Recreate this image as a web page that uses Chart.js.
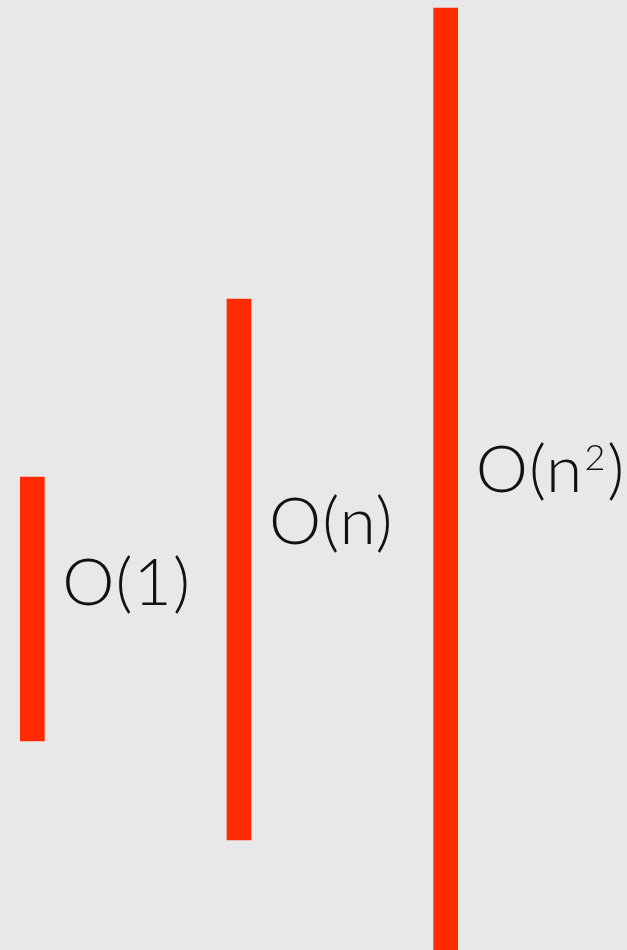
<!DOCTYPE html>
<html>
<head>
<meta charset="utf-8">
<script src="https://cdn.jsdelivr.net/npm/chart.js@4"></script>
<style>
html,body{margin:0;padding:0;background:#e8e8e8;}
#wrap{position:relative;width:627px;height:950px;overflow:hidden;background:#e8e8e8;}
#inner{position:absolute;left:-71px;top:0;width:720px;height:950px;}
</style>
</head>
<body>
<div id="wrap"><div id="inner"><canvas id="c"></canvas></div></div>
<script>
// categories
const categories = ['O(1)', 'O(n)', 'O(n²)'];
// floating bar ranges (low, high) in chart units (0 = bottom, 950 = top)
const barLow  = [209, 110, 0];
const barHigh = [473, 651, 942];
// label baseline level for each category, in the same units
const labelLevel = [345, 406, 458];

const ranges = categories.map((c, i) => [barLow[i], barHigh[i]]);

const MAIN_FONT = '300 66px Lato, "Open Sans", sans-serif';
const SUP_FONT = '300 36px Lato, "Open Sans", sans-serif';

function drawLabel(ctx, text, x, y) {
  // split on superscript two and draw it as a raised smaller digit
  const parts = text.split('²');
  let cx = x;
  parts.forEach((p, k) => {
    ctx.font = MAIN_FONT;
    ctx.fillText(p, cx, y);
    cx += ctx.measureText(p).width;
    if (k < parts.length - 1) {
      ctx.font = SUP_FONT;
      cx += 1;
      ctx.fillText('2', cx, y - 22);
      cx += ctx.measureText('2').width + 1;
    }
  });
}

const labelPlugin = {
  id: 'complexityLabels',
  afterDatasetsDraw(chart) {
    const ctx = chart.ctx;
    const meta = chart.getDatasetMeta(0);
    const y = chart.scales.y;
    ctx.save();
    ctx.fillStyle = '#111111';
    ctx.textAlign = 'left';
    ctx.textBaseline = 'alphabetic';
    try { ctx.letterSpacing = '1px'; } catch (e) {}
    meta.data.forEach((bar, i) => {
      const right = bar.x + bar.width / 2;
      drawLabel(ctx, categories[i], right + 18, y.getPixelForValue(labelLevel[i]));
    });
    ctx.restore();
  }
};

new Chart(document.getElementById('c'), {
  type: 'bar',
  data: {
    labels: categories,
    datasets: [{
      data: ranges,
      backgroundColor: '#ff2a00',
      borderWidth: 0,
      barThickness: 24,
      borderSkipped: false
    }]
  },
  options: {
    responsive: true,
    maintainAspectRatio: false,
    animation: false,
    layout: { padding: { left: 0, right: 100, top: 0, bottom: 0 } },
    plugins: { legend: { display: false }, tooltip: { enabled: false } },
    scales: {
      x: { type: 'category', display: false, offset: true },
      y: { type: 'linear', display: false, min: 0, max: 950 }
    }
  },
  plugins: [labelPlugin]
});
</script>
</body>
</html>
